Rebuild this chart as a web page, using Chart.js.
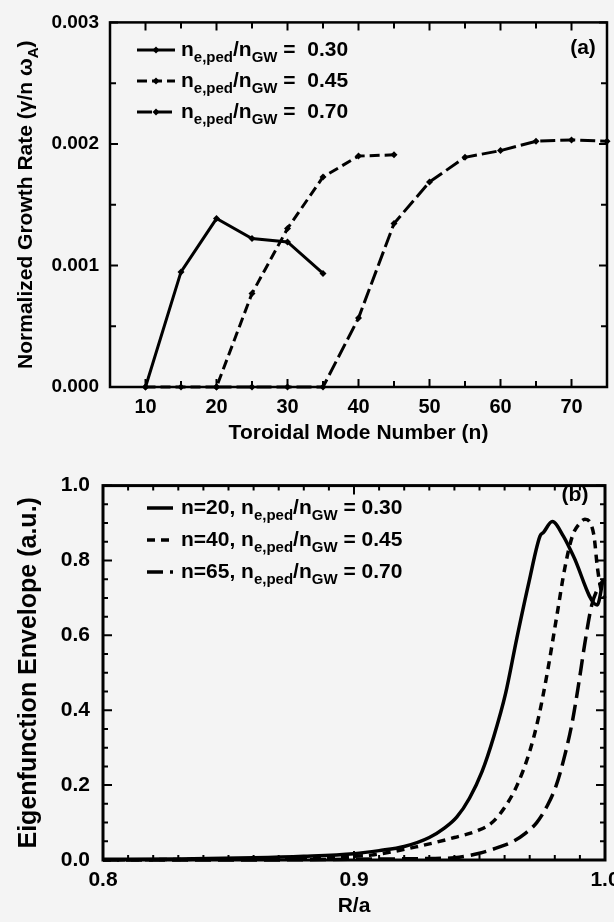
<!DOCTYPE html>
<html>
<head>
<meta charset="utf-8">
<title>Growth rate and eigenfunction envelope</title>
<script src="https://cdn.jsdelivr.net/npm/chart.js@4.4.1/dist/chart.umd.min.js"></script>
<style>
  html, body { margin: 0; padding: 0; background: #f4f4f4; overflow: hidden; }
  .page { width: 614px; height: 922px; overflow: hidden; }
  .panel { position: relative; width: 640px; }
</style>
</head>
<body>
<div class="page">
  <div class="panel" style="height:460px"><canvas id="growthChart"></canvas></div>
  <div class="panel" style="height:462px"><canvas id="eigenChart"></canvas></div>
</div>
<script>
const FONT = "'Liberation Sans', Arial, sans-serif";

// (a) normalized growth rate vs toroidal mode number
const modeN030 = [10, 15, 20, 25, 30, 35];
const growth030 = [0, 0.000947, 0.001386, 0.001222, 0.001194, 0.000934];
const modeN045 = [10, 15, 20, 25, 30, 35, 40, 45];
const growth045 = [0, 0, 0, 0.00077, 0.001304, 0.001728, 0.0019, 0.00191];
const modeN070 = [20, 25, 30, 35, 40, 45, 50, 55, 60, 65, 70, 75];
const growth070 = [0, 0, 0, 0, 0.000567, 0.001345, 0.001687, 0.00189, 0.001945, 0.002022, 0.002033, 0.002022];
const densityLabels = ["0.30", "0.45", "0.70"];
const modeTicks = [10, 20, 30, 40, 50, 60, 70];
const growthTicks = [0, 0.001, 0.002, 0.003];

// (b) eigenfunction envelope vs R/a
const radiusN20 = [0.80, 0.83, 0.86, 0.88, 0.90, 0.91, 0.92, 0.93, 0.936, 0.941, 0.946, 0.951, 0.9557, 0.9604, 0.9648, 0.9697, 0.9741, 0.9755, 0.979, 0.9834, 0.9874, 0.9969, 0.9993];
const envelopeN20 = [0.002, 0.003, 0.006, 0.010, 0.017, 0.025, 0.036, 0.06, 0.085, 0.115, 0.165, 0.236, 0.33, 0.445, 0.59, 0.742, 0.865, 0.875, 0.904, 0.865, 0.812, 0.681, 0.751];
const radiusN40 = [0.80, 0.84, 0.87, 0.89, 0.90, 0.9068, 0.9247, 0.94, 0.9495, 0.955, 0.96, 0.965, 0.97, 0.9735, 0.977, 0.981, 0.984, 0.987, 0.99, 0.992, 0.9955, 0.997, 0.9985, 1.0];
const envelopeN40 = [0.0, 0.002, 0.004, 0.007, 0.010, 0.013, 0.035, 0.06, 0.079, 0.10, 0.14, 0.20, 0.29, 0.38, 0.50, 0.66, 0.78, 0.865, 0.90, 0.91, 0.87, 0.78, 0.72, 0.70];
const radiusN65 = [0.80, 0.86, 0.90, 0.93, 0.94, 0.95, 0.958, 0.9635, 0.968, 0.9728, 0.977, 0.9806, 0.984, 0.987, 0.9895, 0.992, 0.9947, 0.998, 1.0];
const envelopeN65 = [0.0, 0.0, 0.002, 0.004, 0.006, 0.018, 0.035, 0.05, 0.07, 0.10, 0.145, 0.20, 0.28, 0.37, 0.47, 0.58, 0.68, 0.735, 0.75];
const modeLabels = ["20", "40", "65"];
const radiusTicks = [0.8, 0.9, 1.0];
const envelopeTicks = [0, 0.2, 0.4, 0.6, 0.8, 1.0];

const toPoints = (xs, ys) => xs.map((x, i) => ({ x: x, y: ys[i] }));

// text with subscripts: parts = [[text, isSub], ...]
function drawRich(ctx, parts, x, y, size, align) {
  const mainFont = `bold ${size}px ${FONT}`;
  const subFont = `bold ${Math.round(size * 0.7)}px ${FONT}`;
  let width = 0;
  parts.forEach(([t, sub]) => {
    ctx.font = sub ? subFont : mainFont;
    width += ctx.measureText(t).width;
  });
  let cx = align === "center" ? x - width / 2 : x;
  ctx.textAlign = "left";
  ctx.textBaseline = "alphabetic";
  parts.forEach(([t, sub]) => {
    ctx.font = sub ? subFont : mainFont;
    ctx.fillText(t, cx, y + (sub ? size * 0.3 : 0));
    cx += ctx.measureText(t).width;
  });
  return width;
}

// frame, inward ticks, legend and panel label
const framePlugin = {
  id: "frame",
  afterDatasetsDraw(chart, args, opts) {
    const { ctx, chartArea: a, scales } = chart;
    ctx.save();
    ctx.strokeStyle = "#000";
    ctx.fillStyle = "#000";

    // inward tick marks on all four sides
    ctx.lineWidth = 2;
    ctx.beginPath();
    const tickSet = (vals, len, scale, horizontal) => {
      vals.forEach(v => {
        const p = scale.getPixelForValue(v);
        if (horizontal) {
          ctx.moveTo(p, a.bottom); ctx.lineTo(p, a.bottom - len);
          ctx.moveTo(p, a.top); ctx.lineTo(p, a.top + len);
        } else {
          ctx.moveTo(a.left, p); ctx.lineTo(a.left + len, p);
          ctx.moveTo(a.right, p); ctx.lineTo(a.right - len, p);
        }
      });
    };
    tickSet(opts.xMajor, opts.majorLen, scales.x, true);
    tickSet(opts.xMinor, opts.minorLen, scales.x, true);
    tickSet(opts.yMajor, opts.majorLen, scales.y, false);
    tickSet(opts.yMinor, opts.minorLen, scales.y, false);
    ctx.stroke();

    ctx.lineWidth = opts.frameWidth;
    ctx.strokeRect(a.left, a.top, a.right - a.left, a.bottom - a.top);

    // legend
    const lg = opts.legend;
    chart.data.datasets.forEach((ds, i) => {
      const y = lg.y + i * lg.rowGap;
      ctx.save();
      ctx.lineWidth = ds.borderWidth;
      ctx.setLineDash(ds.borderDash || []);
      ctx.beginPath();
      ctx.moveTo(lg.x, y);
      ctx.lineTo(lg.x + lg.sampleWidth, y);
      ctx.stroke();
      ctx.restore();
      if (ds.pointRadius > 0) {
        const m = lg.x + lg.sampleWidth / 2, r = ds.pointRadius;
        ctx.beginPath();
        ctx.moveTo(m, y - r); ctx.lineTo(m + r, y); ctx.lineTo(m, y + r); ctx.lineTo(m - r, y);
        ctx.closePath();
        ctx.fill();
      }
      drawRich(ctx, lg.labels[i], lg.x + lg.sampleWidth + lg.textGap, y + lg.textShift, lg.fontSize, "left");
    });

    // panel label
    ctx.font = `bold ${opts.tagSize}px ${FONT}`;
    ctx.textAlign = "center";
    ctx.textBaseline = "middle";
    ctx.fillText(opts.tag, opts.tagX, opts.tagY);

    // rotated y title with subscript
    if (opts.yTitle) {
      ctx.translate(opts.yTitle.x, (a.top + a.bottom) / 2);
      ctx.rotate(-Math.PI / 2);
      drawRich(ctx, opts.yTitle.parts, 0, opts.yTitle.size * 0.36, opts.yTitle.size, "center");
    }
    ctx.restore();
  }
};

const stepValues = (from, to, step) => {
  const out = [];
  for (let v = from; v <= to + step / 2; v += step) out.push(+v.toFixed(6));
  return out;
};

const tickFont = size => ({ family: FONT, size: size, weight: "bold" });

// panel (a)
new Chart(document.getElementById("growthChart"), {
  type: "line",
  data: {
    datasets: [
      { data: toPoints(modeN030, growth030), borderDash: [] },
      { data: toPoints(modeN045, growth045), borderDash: [10, 5] },
      { data: toPoints(modeN070, growth070), borderDash: [15, 5] }
    ].map(ds => Object.assign({
      borderColor: "#000",
      borderWidth: 3,
      pointStyle: "rectRot",
      pointRadius: 3.5,
      pointBackgroundColor: "#000",
      pointBorderWidth: 0,
      tension: 0,
      clip: false
    }, ds))
  },
  options: {
    responsive: true,
    maintainAspectRatio: false,
    animation: false,
    events: [],
    layout: { padding: { top: 22, right: 33, left: 0, bottom: 0 } },
    plugins: {
      legend: { display: false },
      tooltip: { enabled: false },
      frame: {
        xMajor: modeTicks, xMinor: stepValues(15, 75, 10),
        yMajor: growthTicks, yMinor: stepValues(0.0005, 0.0025, 0.001),
        majorLen: 8, minorLen: 6, frameWidth: 2.5,
        legend: {
          x: 137, y: 50, rowGap: 31, sampleWidth: 38, textGap: 6, textShift: 6, fontSize: 21,
          labels: densityLabels.map(d => [["n", 0], ["e,ped", 1], ["/n", 0], ["GW", 1], [" =  " + d, 0]])
        },
        tag: "(a)", tagX: 583, tagY: 48, tagSize: 21,
        yTitle: { x: 24, size: 21, parts: [["Normalized Growth Rate (\u03b3/n \u03c9", 0], ["A", 1], [")", 0]] }
      }
    },
    scales: {
      x: {
        type: "linear", min: 5, max: 75,
        grid: { display: false, drawTicks: false },
        border: { display: false },
        afterFit: s => { s.height = 73; },
        afterBuildTicks: s => { s.ticks = modeTicks.map(v => ({ value: v })); },
        ticks: { padding: 8, color: "#000", font: tickFont(20), maxRotation: 0, callback: v => String(v) },
        title: { display: true, text: "Toroidal Mode Number (n)", color: "#000", font: tickFont(21), padding: { top: 0, bottom: 14 } }
      },
      y: {
        type: "linear", min: 0, max: 0.003,
        grid: { display: false, drawTicks: false },
        border: { display: false },
        afterFit: s => { s.width = 110; },
        afterBuildTicks: s => { s.ticks = growthTicks.map(v => ({ value: v })); },
        ticks: { padding: 11, color: "#000", font: tickFont(19), callback: v => v.toFixed(3) }
      }
    }
  },
  plugins: [framePlugin]
});

// panel (b)
new Chart(document.getElementById("eigenChart"), {
  type: "line",
  data: {
    datasets: [
      { data: toPoints(radiusN20, envelopeN20), borderDash: [] },
      { data: toPoints(radiusN40, envelopeN40), borderDash: [8, 6] },
      { data: toPoints(radiusN65, envelopeN65), borderDash: [16, 7] }
    ].map(ds => Object.assign({
      borderColor: "#000",
      borderWidth: 3.5,
      pointRadius: 0,
      cubicInterpolationMode: "monotone",
      clip: false
    }, ds))
  },
  options: {
    responsive: true,
    maintainAspectRatio: false,
    animation: false,
    events: [],
    layout: { padding: { top: 18, right: 35, left: 0, bottom: 0 } },
    plugins: {
      legend: { display: false },
      tooltip: { enabled: false },
      frame: {
        xMajor: radiusTicks, xMinor: stepValues(0.81, 0.99, 0.01),
        yMajor: envelopeTicks, yMinor: stepValues(0.05, 0.95, 0.05),
        majorLen: 9, minorLen: 5, frameWidth: 3,
        legend: {
          x: 147, y: 48, rowGap: 32, sampleWidth: 26, textGap: 8, textShift: 6, fontSize: 21,
          labels: modeLabels.map((n, i) => [["n=" + n + ", n", 0], ["e,ped", 1], ["/n", 0], ["GW", 1], [" = " + densityLabels[i], 0]])
        },
        tag: "(b)", tagX: 575, tagY: 35, tagSize: 21
      }
    },
    scales: {
      x: {
        type: "linear", min: 0.8, max: 1.0,
        grid: { display: false, drawTicks: false },
        border: { display: false },
        afterFit: s => { s.height = 62; },
        afterBuildTicks: s => { s.ticks = radiusTicks.map(v => ({ value: v })); },
        ticks: { padding: 8, color: "#000", font: tickFont(21), maxRotation: 0, callback: v => v.toFixed(1) },
        title: { display: true, text: "R/a", color: "#000", font: tickFont(21), padding: { top: 0, bottom: 3 } }
      },
      y: {
        type: "linear", min: 0, max: 1.0,
        grid: { display: false, drawTicks: false },
        border: { display: false },
        afterFit: s => { s.width = 103; },
        afterBuildTicks: s => { s.ticks = envelopeTicks.map(v => ({ value: v })); },
        ticks: { padding: 13, color: "#000", font: tickFont(21), callback: v => v.toFixed(1) },
        title: { display: true, text: "Eigenfunction Envelope (a.u.)", color: "#000", font: tickFont(25), padding: { top: 14, bottom: 0 } }
      }
    }
  },
  plugins: [framePlugin]
});
</script>
</body>
</html>
